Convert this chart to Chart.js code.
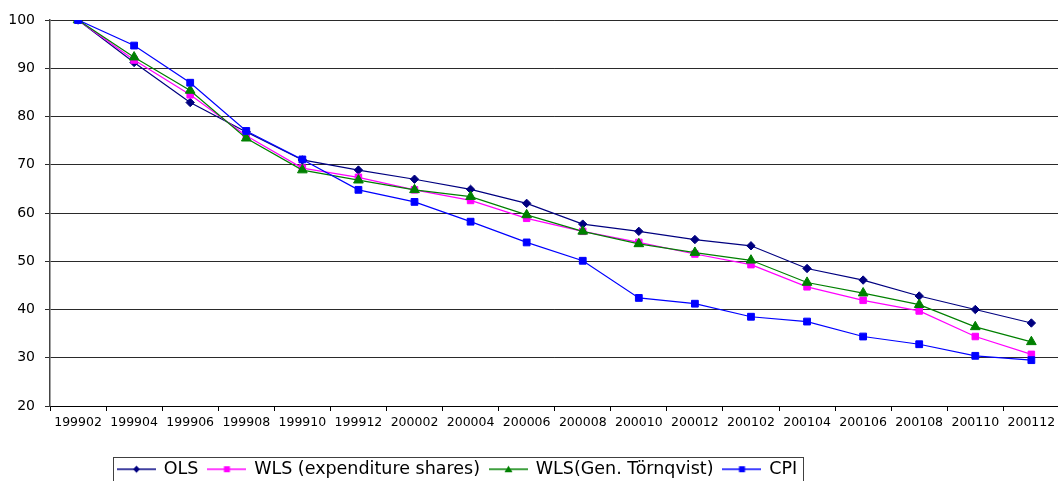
<!DOCTYPE html>
<html>
<head>
<meta charset="utf-8">
<script src="https://cdn.jsdelivr.net/npm/chart.js@4.4.1/dist/chart.umd.min.js"></script>
<style>
  html, body { margin: 0; padding: 0; background: #fff; overflow: hidden; }
  #wrap { position: relative; width: 1066px; height: 488px; }
</style>
</head>
<body>
<div id="wrap"><canvas id="chart"></canvas></div>
<script>
// Periods (YYYYMM), every second month
const periods = ['199902','199904','199906','199908','199910','199912',
                 '200002','200004','200006','200008','200010','200012',
                 '200102','200104','200106','200108','200110','200112'];

// Price indices, 199902 = 100
const olsIndex      = [100, 91.2, 82.9, 76.8, 71.0, 68.9, 67.0, 64.9, 62.0, 57.7, 56.2, 54.5, 53.2, 48.5, 46.1, 42.8, 40.0, 37.2];
const wlsExpShares  = [100, 91.7, 84.5, 76.0, 69.3, 67.4, 64.8, 62.6, 58.9, 56.2, 53.9, 51.5, 49.3, 44.7, 41.9, 39.7, 34.4, 30.7];
const wlsTornqvist  = [100, 92.3, 85.4, 75.5, 68.9, 66.8, 64.8, 63.4, 59.6, 56.2, 53.6, 51.8, 50.2, 45.6, 43.4, 41.0, 36.4, 33.3];
const cpiIndex      = [100, 94.7, 87.0, 77.0, 71.1, 64.8, 62.3, 58.2, 53.9, 50.1, 42.4, 41.2, 38.5, 37.5, 34.4, 32.8, 30.4, 29.5];

// Y axis tick values
const yTicks = [20, 30, 40, 50, 60, 70, 80, 90, 100];

const seriesNames = ['OLS', 'WLS (expenditure shares)', 'WLS(Gen. Törnqvist)', 'CPI'];

Chart.defaults.font.family = "'DejaVu Sans', sans-serif";
Chart.defaults.color = '#000';

// Legend symbol: short line with the series marker in the middle
function legendSymbol(color, shape) {
  const cv = document.createElement('canvas');
  cv.width = 39; cv.height = 12;
  const g = cv.getContext('2d');
  const c = 19.5;
  g.strokeStyle = color; g.lineWidth = 1.5;
  g.beginPath(); g.moveTo(0, 6); g.lineTo(39, 6); g.stroke();
  g.fillStyle = color;
  g.beginPath();
  if (shape === 'diamond') {
    g.moveTo(c - 3.5, 6); g.lineTo(c, 2.5); g.lineTo(c + 3.5, 6); g.lineTo(c, 9.5);
  } else if (shape === 'square') {
    g.rect(c - 3, 3, 6, 6);
  } else {
    g.moveTo(c - 4, 9); g.lineTo(c, 2.5); g.lineTo(c + 4, 9);
  }
  g.closePath(); g.fill();
  return cv;
}

const symbols = [
  legendSymbol('#000080', 'diamond'),
  legendSymbol('#FF00FF', 'square'),
  legendSymbol('#008000', 'triangle'),
  legendSymbol('#0000FF', 'square')
];

const LEGEND_FONT = 17.5;
const LEGEND_PAD = 10;

// Places the legend row and draws a frame around it
const legendFrame = {
  id: 'legendFrame',
  afterLayout(chart) {
    const lg = chart.legend;
    lg.left = 118 - LEGEND_PAD;
    lg.right = chart.width;
  },
  afterDraw(chart) {
    const lg = chart.legend;
    const x0 = lg.left + LEGEND_PAD;
    const end = x0 + lg.lineWidths[0] - LEGEND_PAD;
    const cy = lg.top + LEGEND_PAD + LEGEND_FONT / 2;
    const ctx = chart.ctx;
    ctx.save();
    ctx.strokeStyle = '#404040';
    ctx.lineWidth = 1;
    ctx.strokeRect(Math.round(x0 - 5) + 0.5, Math.round(cy - 12) + 0.5,
                   Math.round(end + 6 - (x0 - 5)), 26);
    ctx.restore();
  }
};

new Chart(document.getElementById('chart'), {
  type: 'line',
  data: {
    labels: periods,
    datasets: [
      { label: seriesNames[0], data: olsIndex, borderColor: '#000080', backgroundColor: '#000080',
        pointStyle: 'rectRot', pointRadius: 4.2, pointBorderWidth: 1, order: 3 },
      { label: seriesNames[1], data: wlsExpShares, borderColor: '#FF00FF', backgroundColor: '#FF00FF',
        pointStyle: 'rect', pointRadius: 4.6, pointBorderWidth: 1, order: 2 },
      { label: seriesNames[2], data: wlsTornqvist, borderColor: '#008000', backgroundColor: '#008000',
        pointStyle: 'triangle', pointRadius: 5.6, pointBorderWidth: 1, order: 1 },
      { label: seriesNames[3], data: cpiIndex, borderColor: '#0000FF', backgroundColor: '#0000FF',
        pointStyle: 'rect', pointRadius: 4.8, pointBorderWidth: 1, order: 0 }
    ]
  },
  options: {
    responsive: true,
    maintainAspectRatio: false,
    animation: false,
    events: [],
    elements: { line: { borderWidth: 1.2, tension: 0 } },
    layout: { padding: { top: 20, left: 0, right: 0, bottom: 0 } },
    plugins: {
      tooltip: { enabled: false },
      legend: {
        position: 'bottom',
        align: 'start',
        labels: {
          usePointStyle: true,
          pointStyleWidth: 37,
          padding: LEGEND_PAD,
          color: '#000',
          font: { size: LEGEND_FONT },
          generateLabels: chart => chart.data.datasets.map((ds, i) => ({
            text: ds.label,
            fillStyle: ds.borderColor,
            strokeStyle: ds.borderColor,
            fontColor: '#000',
            lineWidth: 0,
            pointStyle: symbols[i],
            hidden: false,
            datasetIndex: i
          }))
        }
      }
    },
    scales: {
      x: {
        offset: true,
        grid: { display: true, drawOnChartArea: false, drawTicks: true, tickLength: 5, offset: true, color: '#000' },
        border: { display: true, color: '#000', width: 1 },
        ticks: { autoSkip: false, maxRotation: 0, minRotation: 0, padding: 4, font: { size: 12.5 }, color: '#000' },
        afterFit: s => { s.height = 44.5; }
      },
      y: {
        min: 20,
        max: 100,
        afterBuildTicks: s => { s.ticks = yTicks.map(v => ({ value: v })); },
        grid: { color: '#2a2a2a', lineWidth: 1, tickLength: 5, drawTicks: true },
        border: { display: true, color: '#444', width: 1.5 },
        ticks: { padding: 10, font: { size: 14 }, color: '#000' },
        afterFit: s => { s.width = 50; }
      }
    }
  },
  plugins: [legendFrame]
});
</script>
</body>
</html>
